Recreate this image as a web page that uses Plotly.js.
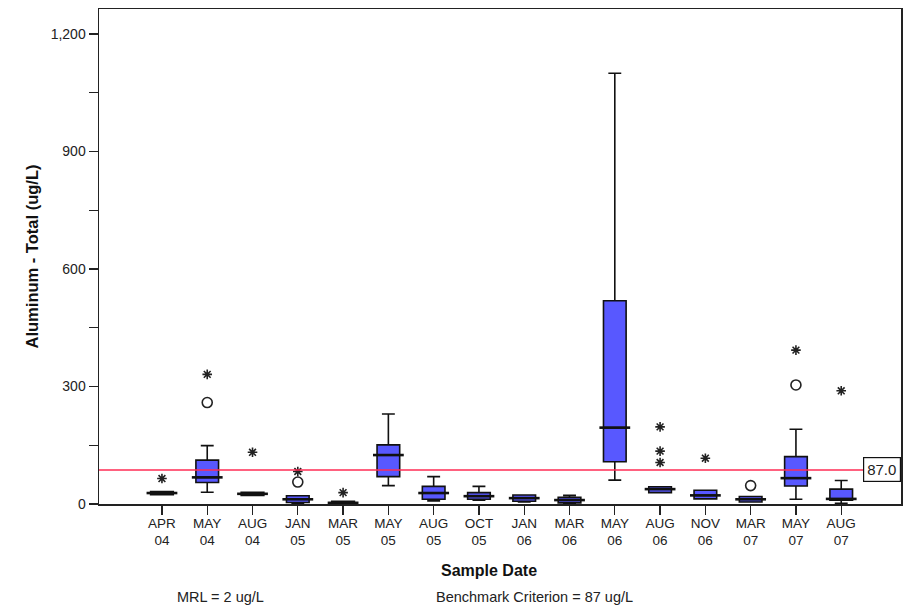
<!DOCTYPE html>
<html>
<head>
<meta charset="utf-8">
<script src="https://cdn.plot.ly/plotly-3.0.1.min.js"></script>
<style>html,body{margin:0;padding:0;background:#fff;}#chart{width:912px;height:611px;}</style>
</head>
<body>
<div id="chart"></div>
<script>
// Sample dates (categories)
const categories = ["APR<br>04","MAY<br>04","AUG<br>04","JAN<br>05","MAR<br>05","MAY<br>05","AUG<br>05","OCT<br>05",
                    "JAN<br>06","MAR<br>06","MAY<br>06","AUG<br>06","NOV<br>06","MAR<br>07","MAY<br>07","AUG<br>07"];
const positions = [0,1,2,3,4,5,6,7,8,9,10,11,12,13,14,15];
// Box statistics (ug/L)
const lowerWhisker = [24, 30, 22, 0, 0, 47, 8, 10, 5, 2, 61, 29, 13, 5, 12, 2];
const q1Values     = [24, 55, 22, 4, 0, 70, 12, 12, 7, 3, 108, 29, 13, 5, 46, 10];
const medianValues = [28, 68, 26, 12, 3, 125, 28, 20, 15, 10, 195, 38, 22, 12, 66, 13];
const q3Values     = [32, 112, 30, 21, 7, 151, 45, 29, 23, 17, 519, 44, 35, 19, 121, 38];
const upperWhisker = [32, 149, 30, 21, 7, 230, 70, 45, 23, 22, 1100, 44, 35, 19, 191, 60];
// Outliers
const circleX = [1, 3, 13, 14];
const circleY = [259, 56, 47, 304];
const starX = [0, 1, 2, 3, 4, 11, 11, 11, 12, 14, 15];
const starY = [65, 331, 132, 83, 29, 197, 135, 106, 117, 393, 289];
// Benchmark criterion
const benchmark = 87;
const benchmarkLabel = "87.0";

const font = "Liberation Sans, Arial, sans-serif";

const traces = [
  {
    type: "box",
    x: positions,
    q1: q1Values,
    median: medianValues,
    q3: q3Values,
    lowerfence: lowerWhisker,
    upperfence: upperWhisker,
    width: 0.5,
    whiskerwidth: 0.57,
    fillcolor: "rgb(88,88,255)",
    line: {color: "#111", width: 1.6},
    boxpoints: false,
    hoverinfo: "skip",
    showlegend: false
  },
  {
    type: "scatter", mode: "markers",
    x: positions, y: medianValues,
    marker: {symbol: "line-ew-open", size: 22, color: "#111", line: {color: "#111", width: 2.6}},
    hoverinfo: "skip", showlegend: false
  },
  {
    type: "scatter", mode: "markers",
    x: circleX, y: circleY,
    marker: {symbol: "circle-open", size: 10, color: "#222", line: {color: "#222", width: 1.6}},
    hoverinfo: "skip", showlegend: false
  },
  {
    type: "scatter", mode: "markers",
    x: starX, y: starY,
    marker: {symbol: "asterisk-open", size: 8, color: "#222", line: {color: "#222", width: 1.6}},
    hoverinfo: "skip", showlegend: false
  }
];

const layout = {
  width: 912, height: 611,
  margin: {l: 99, r: 11, t: 9, b: 107},
  paper_bgcolor: "#fff", plot_bgcolor: "#fff",
  font: {family: font, color: "#222", size: 13},
  xaxis: {
    range: [-1.39, 16.32],
    tickmode: "array", tickvals: positions, ticktext: categories,
    ticks: "outside", ticklen: 9, tickcolor: "#222", tickwidth: 1.4,
    ticklabelstandoff: -3,
    showgrid: false, zeroline: false,
    showline: true, linecolor: "#222", linewidth: 1.5, mirror: true,
    tickfont: {family: font, size: 13.5, color: "#222"}
  },
  yaxis: {
    range: [0, 1264],
    tickvals: [0, 300, 600, 900, 1200],
    ticktext: ["0", "300", "600", "900", "1,200"],
    tickmode: "array",
    ticks: "outside", ticklen: 9, tickcolor: "#222", tickwidth: 1.4,
    minor: {tickvals: [150, 450, 750, 1050], ticks: "outside", ticklen: 9, tickcolor: "#222", tickwidth: 1.2},
    showgrid: false, zeroline: false,
    showline: true, linecolor: "#222", linewidth: 1.5, mirror: true,
    tickfont: {family: font, size: 14, color: "#222"},
    title: {text: "<b>Aluminum - Total (ug/L)</b>", font: {family: font, size: 16.5, color: "#111"}, standoff: 8}
  },
  shapes: [
    {type: "line", xref: "paper", x0: 0, x1: 1, yref: "y", y0: benchmark, y1: benchmark,
     line: {color: "#ff2d55", width: 1.5}, layer: "above"}
  ],
  annotations: [
    {xref: "paper", x: 1, xanchor: "right", yref: "y", y: benchmark, yanchor: "middle",
     text: benchmarkLabel, showarrow: false, bgcolor: "#fff", bordercolor: "#111", borderwidth: 1.2,
     borderpad: 3, font: {family: font, size: 15, color: "#222"}},
    {xref: "paper", x: 0.486, xanchor: "center", yref: "paper", y: -0.113, yanchor: "top",
     text: "<b>Sample Date</b>", showarrow: false, font: {family: font, size: 16, color: "#111"}},
    {xref: "paper", x: 0.095, xanchor: "left", yref: "paper", y: -0.168, yanchor: "top",
     text: "MRL = 2 ug/L", showarrow: false, font: {family: font, size: 14.5, color: "#222"}},
    {xref: "paper", x: 0.418, xanchor: "left", yref: "paper", y: -0.168, yanchor: "top",
     text: "Benchmark Criterion = 87 ug/L", showarrow: false, font: {family: font, size: 14.5, color: "#222"}}
  ]
};

Plotly.newPlot("chart", traces, layout, {displayModeBar: false, staticPlot: true});
</script>
</body>
</html>
